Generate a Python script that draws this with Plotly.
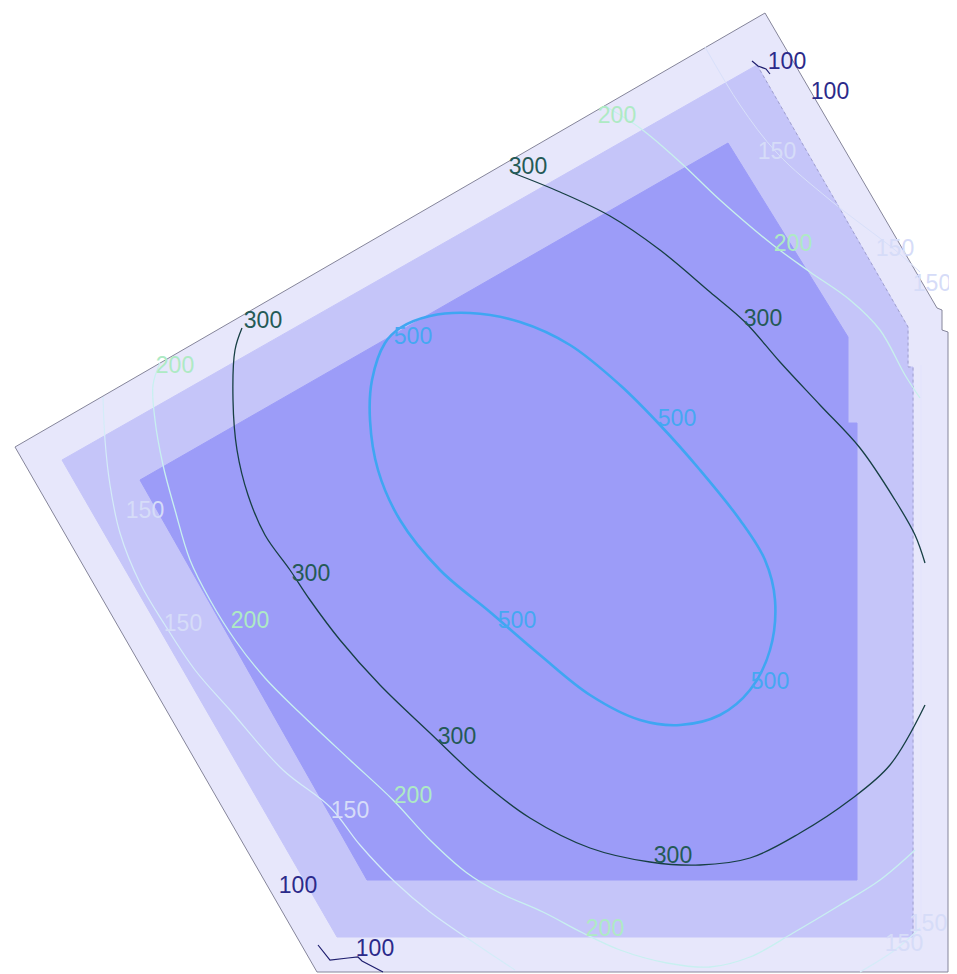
import plotly.graph_objects as go

# ---- zone polygons (picture coordinates, y grows downward) ----
outer_x = [15, 765, 937, 942, 942, 948, 948, 317, 15]
outer_y = [447, 13, 308, 310, 330, 332, 972, 972, 447]
middle_x = [62, 757, 908, 908, 913, 913, 337, 62]
middle_y = [460, 65, 327, 367, 367, 937, 937, 460]
inner_x = [140, 728, 848, 848, 857, 857, 367, 140]
inner_y = [480, 143, 337, 423, 423, 880, 880, 480]

# ---- contour lines ----
c500_x = [385, 372, 370, 378, 400, 440, 490, 540, 590, 640, 680, 720, 750, 770, 775, 765, 740, 700, 660, 620, 570, 520, 470, 430, 400, 385]
c500_y = [343, 380, 420, 470, 520, 570, 612, 655, 695, 720, 725, 715, 690, 650, 600, 560, 520, 470, 425, 385, 345, 322, 313, 316, 328, 343]

c300a_x = [242, 235, 233, 237, 248, 265, 290, 310, 340, 380, 430, 480, 530, 590, 650, 700, 750, 800, 850, 890, 925]
c300a_y = [328, 350, 400, 450, 495, 535, 570, 600, 640, 685, 733, 780, 818, 848, 862, 865, 858, 833, 800, 765, 705]
c300b_x = [513, 560, 610, 660, 710, 745, 780, 820, 860, 895, 915, 925]
c300b_y = [173, 192, 216, 250, 292, 322, 362, 405, 448, 500, 535, 563]

c200a_x = [160, 153, 155, 163, 175, 190, 210, 235, 265, 300, 350, 393, 430, 467, 500, 543, 583, 620, 667, 710, 750, 793, 840, 880, 915]
c200a_y = [363, 385, 420, 465, 510, 560, 600, 640, 678, 713, 760, 800, 840, 873, 893, 912, 933, 950, 963, 967, 957, 933, 905, 880, 850]
c200b_x = [605, 640, 680, 720, 773, 810, 850, 880, 905, 920]
c200b_y = [106, 128, 162, 200, 245, 272, 300, 330, 375, 398]

c150a_x = [103, 105, 110, 120, 140, 165, 195, 230, 283, 330, 360, 395, 430, 470, 515]
c150a_y = [397, 440, 485, 533, 583, 625, 670, 710, 770, 807, 845, 882, 912, 940, 970]
c150b_x = [860, 895, 920]
c150b_y = [972, 950, 928]
c150c_x = [705, 740, 777, 830, 895, 920]
c150c_y = [47, 105, 153, 200, 250, 272]

c100a_x = [752, 758, 766, 770]
c100a_y = [61, 66, 69, 74]
c100b_x = [318, 330, 348, 358, 362, 383]
c100b_y = [945, 960, 958, 957, 961, 972]

edge_x = [921, 921]
edge_y = [365, 935]

# ---- labels ----
lab500_x = [413, 677, 517, 770]
lab500_y = [338, 420, 622, 683]
lab300_x = [263, 528, 763, 311, 457, 673]
lab300_y = [322, 168, 320, 575, 738, 857]
lab200_x = [617, 793, 175, 250, 413, 605]
lab200_y = [117, 245, 367, 622, 797, 930]
lab150_x = [350, 145, 183, 777, 895, 932, 928, 904]
lab150_y = [812, 512, 625, 153, 250, 285, 925, 945]
lab100_x = [787, 830, 298, 375]
lab100_y = [63, 93, 887, 950]

FONT = "Liberation Sans"
PAGE_PAD = 8  # default body margin of the written html page

fig = go.Figure()

fig.add_trace(go.Scatter(x=outer_x, y=outer_y, mode="lines", fill="toself",
                         fillcolor="#E7E7FB", line=dict(color="#85859A", width=1)))
fig.add_trace(go.Scatter(x=middle_x, y=middle_y, mode="lines", fill="toself",
                         fillcolor="#C5C5F9", line=dict(color="#C5C5F9", width=1)))
fig.add_trace(go.Scatter(x=middle_x[1:6], y=middle_y[1:6], mode="lines",
                         line=dict(color="#A0A0CC", width=1, dash="dot")))
fig.add_trace(go.Scatter(x=inner_x, y=inner_y, mode="lines", fill="toself",
                         fillcolor="#9C9CF8", line=dict(color="#9C9CF8", width=1)))
fig.add_trace(go.Scatter(x=edge_x, y=edge_y, mode="lines",
                         line=dict(color="#E4E4FC", width=1.5)))


def add_line(xs, ys, color, width):
    fig.add_trace(go.Scatter(x=xs, y=ys, mode="lines",
                             line=dict(color=color, width=width, shape="spline", smoothing=1.0)))


add_line(c150a_x, c150a_y, "#D4ECF8", 1.2)
add_line(c150b_x, c150b_y, "#D4ECF8", 1.2)
add_line(c150c_x, c150c_y, "#D8E0FA", 1.0)
add_line(c200a_x, c200a_y, "#C8F0F0", 1.3)
add_line(c200b_x, c200b_y, "#C8F0EC", 1.3)
add_line(c300a_x, c300a_y, "#173F44", 1.3)
add_line(c300b_x, c300b_y, "#173F44", 1.3)
add_line(c500_x, c500_y, "#3FA6F2", 2.6)
fig.add_trace(go.Scatter(x=c100a_x, y=c100a_y, mode="lines",
                         line=dict(color="#1E1E6E", width=1.2)))
fig.add_trace(go.Scatter(x=c100b_x, y=c100b_y, mode="lines",
                         line=dict(color="#1E1E6E", width=1.2)))


def add_labels(xs, ys, text, color, size=23):
    fig.add_trace(go.Scatter(x=xs, y=ys, mode="text", text=[text] * len(xs),
                             textposition="middle center",
                             textfont=dict(family=FONT, size=size, color=color)))


add_labels(lab150_x, lab150_y, "150", "#D6DCF8")
add_labels(lab200_x, lab200_y, "200", "#AEEAC4")
add_labels(lab300_x, lab300_y, "300", "#245A56")
add_labels(lab500_x, lab500_y, "500", "#45A8F2")
add_labels(lab100_x, lab100_y, "100", "#2B2A8A")

fig.update_layout(
    width=957 - PAGE_PAD, height=974 - PAGE_PAD, autosize=False,
    margin=dict(l=0, r=0, t=0, b=0),
    paper_bgcolor="white", plot_bgcolor="white",
    showlegend=False,
    xaxis=dict(range=[PAGE_PAD, 957], visible=False, fixedrange=True),
    yaxis=dict(range=[974, PAGE_PAD], visible=False, fixedrange=True),
)

fig.write_html("out.html")
